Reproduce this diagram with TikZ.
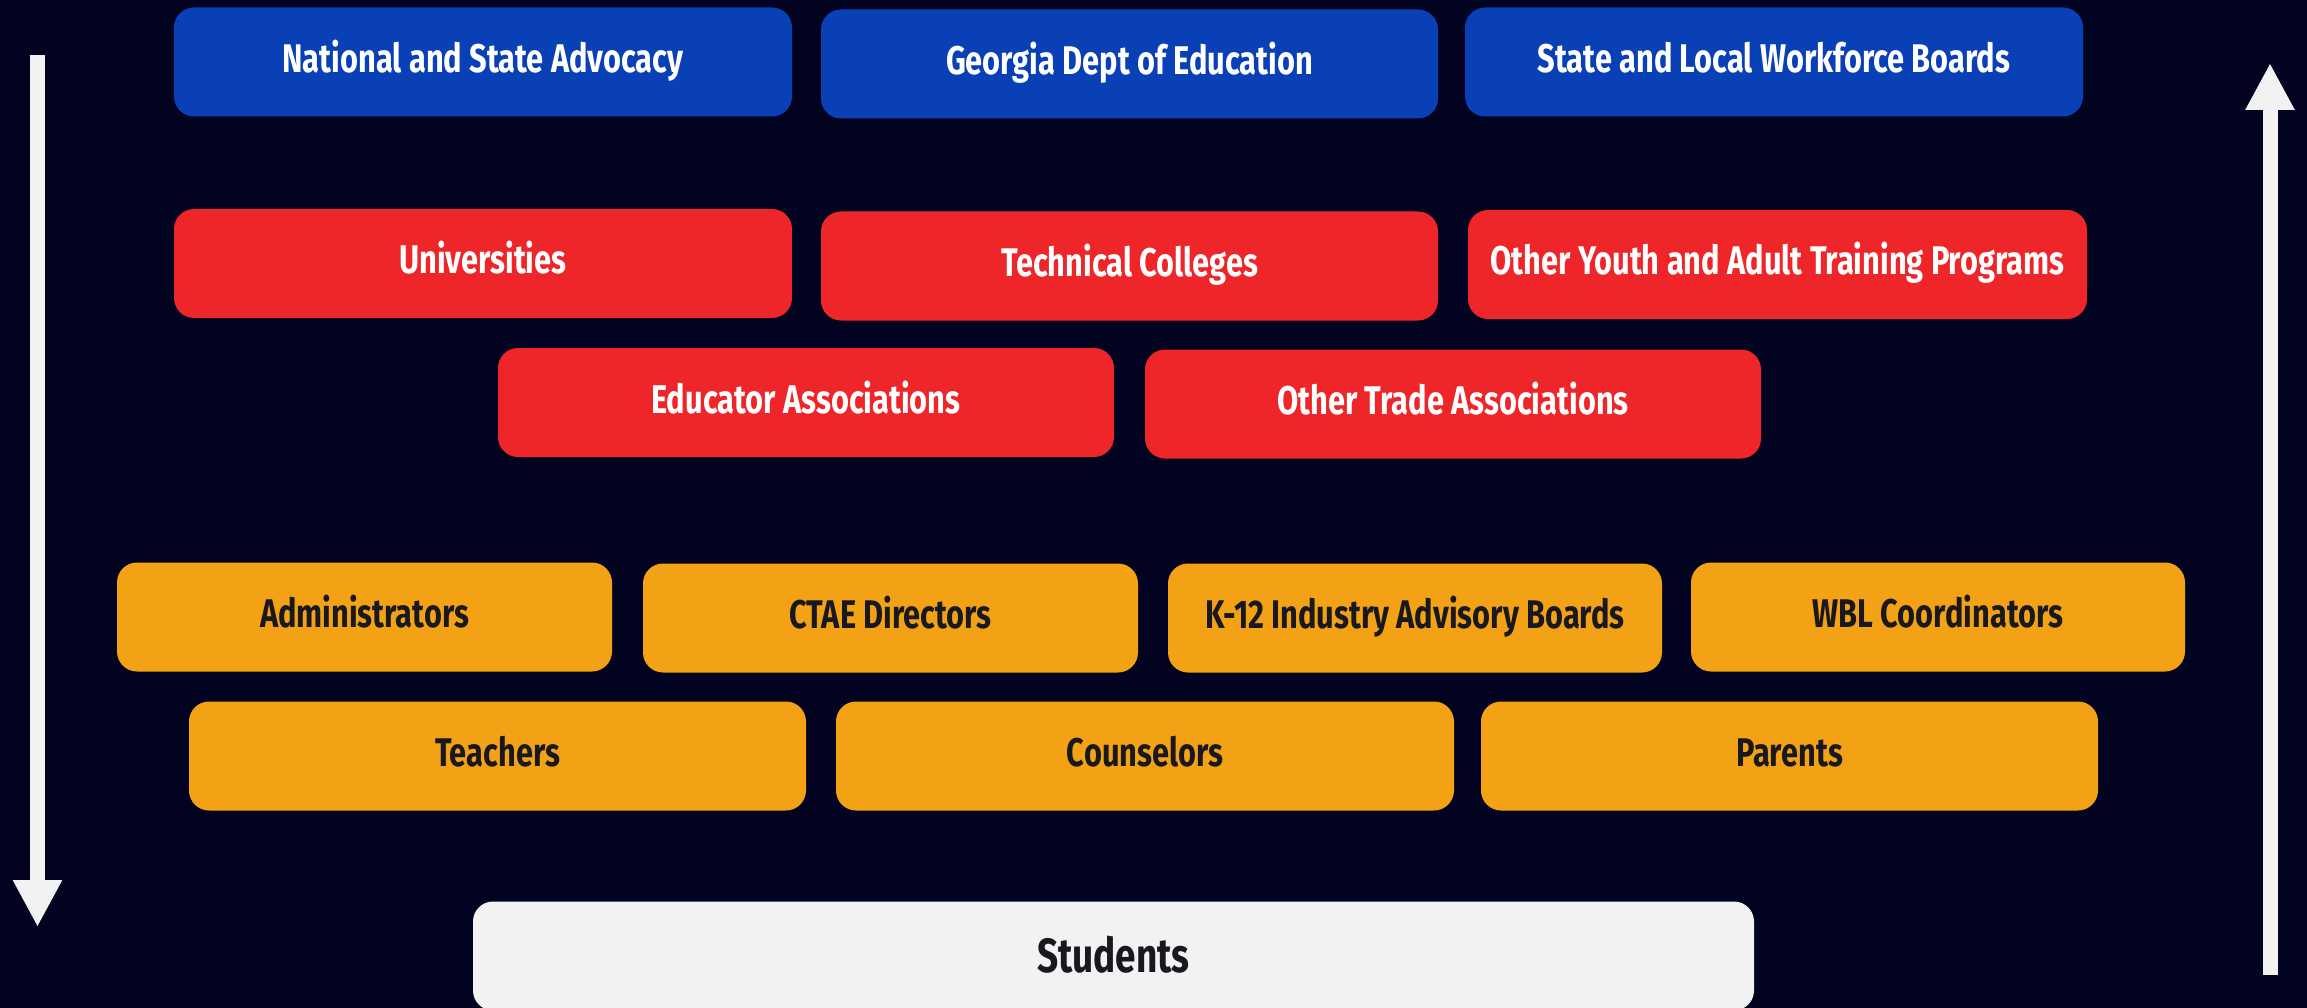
\documentclass[tikz,border=0pt]{standalone}
\usepackage{fontspec}
\setmainfont{Fira Sans}[FakeStretch=0.77]
\usetikzlibrary{arrows.meta}
\definecolor{bgnavy}{RGB}{1,3,33}
\definecolor{boxblue}{RGB}{10,64,182}
\definecolor{boxred}{RGB}{238,37,41}
\definecolor{boxorange}{RGB}{242,162,20}
\definecolor{boxwhite}{RGB}{242,242,242}
\definecolor{darktext}{RGB}{24,24,30}
\begin{document}
\begin{tikzpicture}[x=1pt,y=-1pt,
  card/.style={rectangle, rounded corners=20pt, inner sep=0pt, minimum height=109pt,
    text height=27pt, text depth=6pt, font=\fontsize{40}{45}\selectfont\bfseries},
  bluecard/.style={card, fill=boxblue, text=white, minimum width=618pt},
  redcard/.style={card, fill=boxred, text=white, minimum width=618pt},
  orangecard/.style={card, fill=boxorange, text=darktext},
  wideorange/.style={orangecard, minimum width=618pt},
  narroworange/.style={orangecard, minimum width=495pt},
  studentcard/.style={card, fill=boxwhite, text=darktext, minimum width=1281pt,
    text height=33pt, text depth=0pt, font=\fontsize{48}{54}\selectfont\bfseries},
  bigarrow/.style={draw=boxwhite, line width=15pt, line cap=butt,
    -{Triangle[width=46pt,length=47pt]}}
]
\fill[bgnavy] (0,0) rectangle (2307,1008);
\useasboundingbox (0,0) rectangle (2307,1008);

% row 1
\node[bluecard] (nat) at (483,62) {National and State Advocacy};
\node[bluecard, minimum width=617pt] (ga) at (1129.5,64) {Georgia Dept of Education};
\node[bluecard] (wfb) at (1774,62) {State and Local Workforce Boards};

% row 2
\node[redcard] (uni) at (483,263.5) {Universities};
\node[redcard, minimum width=617pt] (tech) at (1129.5,266) {Technical Colleges};
\node[redcard, minimum width=619pt] (youth) at (1777.5,264.5) {Other Youth and Adult Training Programs};

% row 3
\node[redcard, minimum width=616pt] (edu) at (806,402.5) {Educator Associations};
\node[redcard, minimum width=616pt] (trade) at (1453,404) {Other Trade Associations};

% row 4
\node[narroworange] (adm) at (364.5,617) {Administrators};
\node[narroworange] (ctae) at (890.5,618) {CTAE Directors};
\node[narroworange, minimum width=494pt] (k12) at (1415,618) {K-12 Industry Advisory Boards};
\node[narroworange, minimum width=494pt] (wbl) at (1938,617) {WBL Coordinators};

% row 5
\node[wideorange, minimum width=617pt] (tea) at (497.5,756) {Teachers};
\node[wideorange] (cou) at (1145,756) {Counselors};
\node[wideorange, minimum width=617pt] (par) at (1789.5,756) {Parents};

% students
\node[studentcard] (stu) at (1113.5,956) {Students};

% arrows
\coordinate (ltop) at (37.5,55);
\coordinate (lbot) at (37.5,927);
\coordinate (rbot) at (2270,975);
\coordinate (rtop) at (2270,63);
\draw[bigarrow] (ltop) -- (lbot);
\draw[bigarrow] (rbot) -- (rtop);
\end{tikzpicture}
\end{document}
